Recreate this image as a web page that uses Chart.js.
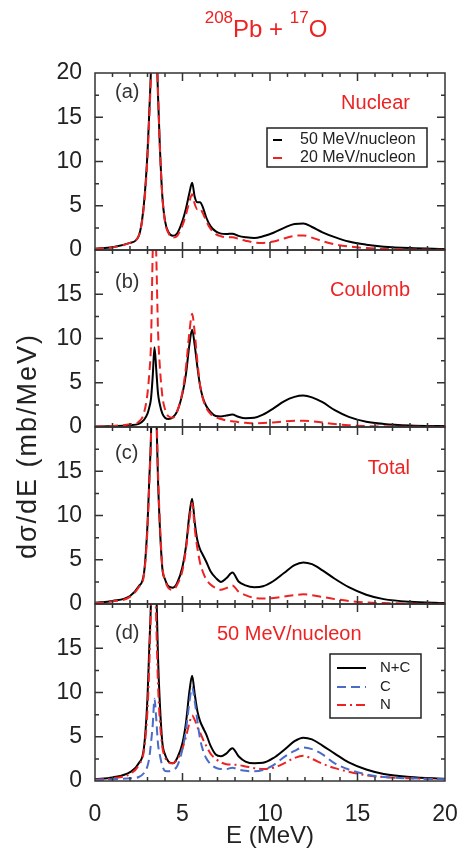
<!DOCTYPE html>
<html>
<head>
<meta charset="utf-8">
<script src="https://cdn.jsdelivr.net/npm/chart.js"></script>
<style>
html,body{margin:0;padding:0;background:#fff}
#wrap{position:relative;width:460px;height:854px}
</style>
</head>
<body>
<div id="wrap"><canvas id="mychart" width="460" height="854"></canvas></div>
<script>
// excitation energy grid (MeV), shared by every curve
const Energy=[0,1,2,2.5,2.8,3.0,3.1,3.2,3.3,3.4,3.5,3.6,3.7,3.85,4.0,4.2,4.45,4.7,5.0,5.2,5.4,5.55,5.7,5.85,6.0,6.15,6.35,6.6,6.9,7.2,7.5,7.85,8.2,8.6,9.1,9.6,10.2,10.8,11.4,11.9,12.4,13.0,13.7,14.5,15.5,16.5,18,20]

// (a) nuclear
const Nuclear50=[0.15,0.3,0.8,1.6,5.3,11,15.5,20.5,28,30,24,17.5,12,6,3.3,2.0,1.6,1.9,3.3,4.7,6.5,7.6,6.0,5.4,5.4,4.9,3.7,2.7,2.1,1.85,1.8,1.85,1.6,1.45,1.35,1.55,1.95,2.5,2.95,3.0,2.6,2.0,1.45,0.95,0.6,0.38,0.22,0.12]
const Nuclear20=[0.12,0.3,0.8,1.6,5.0,10.5,15,20,28,31,25,18,12,6,3.2,1.9,1.4,1.6,2.8,4.0,5.5,6.3,5.2,4.6,4.7,4.2,3.3,2.4,1.8,1.55,1.45,1.45,1.25,1.05,0.85,0.8,0.95,1.3,1.6,1.65,1.4,1.0,0.65,0.4,0.22,0.12,0.06,0.03]
// (b) coulomb
const Coulomb50=[0.05,0.1,0.2,0.35,0.8,1.5,2.2,3.2,5.8,9.0,6.5,3.8,2.6,1.5,1.05,0.9,1.1,1.8,3.8,6.0,9.4,11.0,9.2,6.8,4.7,3.4,2.4,1.7,1.25,1.2,1.3,1.4,1.15,1.0,1.05,1.4,2.1,2.9,3.4,3.55,3.35,2.8,1.9,1.15,0.6,0.35,0.18,0.1]
const Coulomb20=[0.05,0.12,0.3,0.6,1.6,3.8,6.0,9.5,20,26,19.5,11,7,3.5,2.0,1.2,1.05,1.8,4.0,6.8,10.8,12.8,10.6,7.4,4.8,3.3,2.2,1.5,1.1,0.9,0.75,0.65,0.55,0.48,0.42,0.45,0.52,0.62,0.7,0.72,0.65,0.5,0.33,0.2,0.1,0.06,0.03,0.02]
// (c) total
const Total50=[0.15,0.35,0.9,2.0,3.5,9,14,19,30,36,22,14,9,4.0,2.8,2.0,1.85,2.4,4.2,6.5,10.2,11.9,9.2,7.2,6.2,5.6,4.8,3.7,2.95,2.5,2.9,3.55,2.55,2.1,1.9,2.0,2.6,3.5,4.4,4.7,4.5,3.8,2.85,1.9,1.05,0.55,0.25,0.12]
const Total20=[0.1,0.3,0.8,1.9,3.3,8.5,13.5,19,30,38,24,15,9.5,4.2,2.7,1.8,1.6,2.2,3.8,6.2,9.6,11.4,8.5,6.3,4.7,3.7,2.8,2.2,1.8,1.6,1.8,2.1,1.4,1.0,0.7,0.62,0.68,0.85,1.0,1.1,1.0,0.8,0.55,0.35,0.18,0.1,0.05,0.02]
// (d) 50 MeV/nucleon split
const SumNC=[0.2,0.4,1.0,2.0,3.8,9.5,15,20.5,32,36,22,14,9,4.3,3.0,2.2,2.0,2.6,4.3,6.6,10.2,11.9,9.8,7.9,6.8,6.1,5.3,4.0,3.0,2.8,3.1,3.7,2.8,2.2,2.0,2.05,2.6,3.5,4.5,4.9,4.7,4.0,3.1,2.1,1.3,0.8,0.45,0.25]
const PartC=[0.1,0.2,0.3,0.45,0.9,1.7,2.6,4.3,6.4,9.3,7.0,4.2,3.0,1.7,1.15,1.1,1.25,1.7,3.6,5.8,9.0,10.6,9.0,6.8,4.8,3.6,2.6,1.9,1.5,1.35,1.35,1.5,1.3,1.15,1.1,1.25,1.8,2.7,3.4,3.8,3.6,3.0,2.0,1.3,0.75,0.45,0.3,0.2]
const PartN=[0.15,0.3,0.8,1.8,3.5,8,13,20,28,26,18,11,7,3.8,2.7,2.1,2.0,2.4,3.7,5.0,6.6,7.4,6.9,6.1,5.5,4.8,4.0,3.1,2.5,2.1,1.9,1.85,1.8,1.65,1.45,1.35,1.5,2.0,2.6,2.85,2.5,1.95,1.45,1.05,0.65,0.45,0.3,0.2]

const yTicks=[0,5,10,15,20]
const xTicks=[0,5,10,15,20]

const RED='#ee2222', BLUE='#4a6cc8', INK='#222'
const FONT="'Liberation Sans', Arial, sans-serif"
Chart.defaults.font.family=FONT
Chart.defaults.color=INK

function pts(arr){return Energy.map((e,i)=>({x:e,y:arr[i]}))}
function line(label,arr,axis,color,dash,order){
    return {label:label,data:pts(arr),yAxisID:axis,borderColor:color,borderWidth:2,
        borderDash:dash,pointRadius:0,fill:false,cubicInterpolationMode:'monotone',order:order}
}

const DASH=[9,5], DOTDASH=[9,4,2,4]
const panels=['yA','yB','yC','yD']

function yScale(showTop){
    return {type:'linear',position:'left',stack:'panels',stackWeight:1,min:0,max:20,
        grid:{display:false},border:{display:false},
        afterBuildTicks:s=>{s.ticks=yTicks.map(v=>({value:v}))},
        ticks:{font:{size:23},padding:5,color:INK,autoSkip:false,callback:v=>(v===20&&!showTop)?'':v},
        afterFit:s=>{s.width=95;s.paddingTop=0;s.paddingBottom=0}}
}

function drawLegendLine(ctx,x1,x2,y,color,dash){
    ctx.save();ctx.strokeStyle=color;ctx.lineWidth=2;ctx.setLineDash(dash)
    ctx.beginPath();ctx.moveTo(x1,y);ctx.lineTo(x2,y);ctx.stroke();ctx.restore()
}

const panelPlugin={
    id:'panels',
    beforeDatasetDraw(chart,args){
        const a=chart.chartArea, s=args.meta.yScale, ctx=chart.ctx
        ctx.save();ctx.beginPath();ctx.rect(a.left,s.top,a.right-a.left,s.bottom-s.top);ctx.clip()
    },
    afterDatasetDraw(chart){chart.ctx.restore()},
    afterDraw(chart){
        const ctx=chart.ctx, a=chart.chartArea, x=chart.scales.x
        ctx.save()
        ctx.strokeStyle='#333';ctx.lineWidth=1.5
        panels.forEach(k=>{
            const s=chart.scales[k]
            ctx.strokeRect(a.left,s.top,a.right-a.left,s.bottom-s.top)
            ctx.beginPath()
            for(let e=1;e<20;e++){
                const px=x.getPixelForValue(e), L=e%5===0?8:4
                ctx.moveTo(px,s.bottom);ctx.lineTo(px,s.bottom-L)
                ctx.moveTo(px,s.top);ctx.lineTo(px,s.top+L)
            }
            for(let v=2.5;v<20;v+=2.5){
                const py=s.getPixelForValue(v), L=v%5===0?8:4
                ctx.moveTo(a.left,py);ctx.lineTo(a.left+L,py)
                ctx.moveTo(a.right,py);ctx.lineTo(a.right-L,py)
            }
            ctx.stroke()
        })

        // panel tags and captions
        ctx.textBaseline='middle'
        const tags=[['(a)',19,'Nuclear',30],['(b)',32,'Coulomb',40],['(c)',26,'Total',41]]
        tags.forEach((t,i)=>{
            const s=chart.scales[panels[i]]
            ctx.fillStyle='#333';ctx.font='20px '+FONT;ctx.textAlign='left'
            ctx.fillText(t[0],a.left+20,s.top+t[1])
            ctx.fillStyle=RED;ctx.textAlign='right'
            ctx.fillText(t[2],a.left+315,s.top+t[3])
        })
        const sd=chart.scales.yD
        ctx.fillStyle='#333';ctx.textAlign='left';ctx.fillText('(d)',a.left+20,sd.top+29)
        ctx.fillStyle=RED;ctx.fillText('50 MeV/nucleon',a.left+122,sd.top+30)

        // legend (a)
        const sa=chart.scales.yA
        ctx.strokeStyle='#222';ctx.lineWidth=1.5
        ctx.strokeRect(267,sa.top+55,160,39)
        drawLegendLine(ctx,273,282,sa.top+67,'#000',[])
        drawLegendLine(ctx,273,282,sa.top+85,RED,[])
        ctx.fillStyle=INK;ctx.font='16px '+FONT;ctx.textAlign='left'
        ctx.fillText('50 MeV/nucleon',300,sa.top+67)
        ctx.fillText('20 MeV/nucleon',300,sa.top+85)

        // legend (d)
        ctx.strokeRect(330,sd.top+50,91,64)
        drawLegendLine(ctx,337,366,sd.top+64,'#000',[])
        drawLegendLine(ctx,337,366,sd.top+83,BLUE,DASH)
        drawLegendLine(ctx,337,366,sd.top+101,RED,DOTDASH)
        ctx.font='15px '+FONT
        ctx.fillText('N+C',380,sd.top+64)
        ctx.fillText('C',380,sd.top+83)
        ctx.fillText('N',380,sd.top+101)

        // title with mass numbers
        const pieces=[['208',17,true],['Pb',24,false],[' + ',24,false],['17',17,true],['O',24,false]]
        let total=0
        pieces.forEach(p=>{ctx.font=p[1]+'px '+FONT;p.push(ctx.measureText(p[0]).width);total+=p[3]})
        let cx=(a.left+a.right)/2-total/2-4
        ctx.fillStyle=RED;ctx.textBaseline='alphabetic';ctx.textAlign='left'
        pieces.forEach(p=>{ctx.font=p[1]+'px '+FONT;ctx.fillText(p[0],cx,p[2]?23:37);cx+=p[3]})

        // y title
        ctx.save();ctx.translate(29,446);ctx.rotate(-Math.PI/2)
        ctx.fillStyle=INK;ctx.font='27px '+FONT;ctx.letterSpacing='2px'
        ctx.textAlign='center';ctx.textBaseline='middle'
        ctx.fillText('d\u03c3/dE (mb/MeV)',0,0)
        ctx.restore()
        ctx.restore()
    }
}

new Chart('mychart',{
    type:'line',
    data:{
        datasets:[
            line('50 MeV/nucleon',Nuclear50,'yA','#000',[],2),
            line('20 MeV/nucleon',Nuclear20,'yA',RED,DASH,1),
            line('50 MeV/nucleon',Coulomb50,'yB','#000',[],2),
            line('20 MeV/nucleon',Coulomb20,'yB',RED,DASH,1),
            line('50 MeV/nucleon',Total50,'yC','#000',[],2),
            line('20 MeV/nucleon',Total20,'yC',RED,DASH,1),
            line('N+C',SumNC,'yD','#000',[],2),
            line('C',PartC,'yD',BLUE,DASH,1),
            line('N',PartN,'yD',RED,DOTDASH,1),
        ],
    },
    options:{
        responsive:false,
        animation:false,
        devicePixelRatio:1,
        layout:{padding:{top:73,right:15,left:0,bottom:0}},
        plugins:{legend:{display:false},tooltip:{enabled:false}},
        scales:{
            x:{type:'linear',position:'bottom',min:0,max:20,
                grid:{display:false},border:{display:false},
                afterBuildTicks:s=>{s.ticks=xTicks.map(v=>({value:v}))},
                ticks:{font:{size:23},padding:12,color:INK,maxRotation:0,autoSkip:false},
                title:{display:true,text:'E (MeV)',font:{size:24},color:INK,padding:{top:0,bottom:3}},
                afterFit:s=>{s.height=73;s.paddingLeft=0;s.paddingRight=0}},
            yD:yScale(false),
            yC:yScale(false),
            yB:yScale(false),
            yA:yScale(true),
        },
    },
    plugins:[panelPlugin],
});
</script>
</body>
</html>
